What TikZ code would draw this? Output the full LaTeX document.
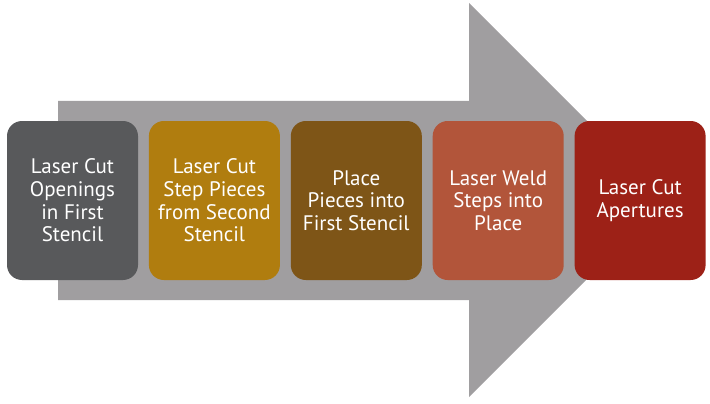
\documentclass[tikz,border=0pt]{standalone}
\usepackage{fontspec}
\setmainfont{PT Sans}
\usetikzlibrary{positioning}
\definecolor{arrowgray}{RGB}{160,158,160}
\definecolor{stepgray}{RGB}{88,89,91}
\definecolor{stepgold}{RGB}{176,125,15}
\definecolor{stepbrown}{RGB}{126,85,23}
\definecolor{steprust}{RGB}{178,85,58}
\definecolor{stepred}{RGB}{157,33,23}
\tikzstyle{stepbox} = [rectangle, rounded corners=15pt, minimum width=131pt, minimum height=159pt, inner sep=0pt, text=white, align=center, font=\fontsize{21}{22.7}\selectfont]

\begin{document}
\begin{tikzpicture}[x=1pt,y=1pt,node distance=10.5pt]
		\useasboundingbox (0,0) rectangle (710,-404);
		% big arrow behind the steps
		\fill[arrowgray] (58,-101) -- (469,-101) -- (469,-3) -- (666,-200) -- (469,-397) -- (469,-300) -- (58,-300) -- cycle;
		
		\node (cut) [stepbox, fill=stepgray] at (72.5,-200.5) {Laser Cut\\Openings\\in First\\Stencil};
		\node (pieces) [stepbox, fill=stepgold, right=of cut] {Laser Cut\\Step Pieces\\from Second\\Stencil};
		\node (place) [stepbox, fill=stepbrown, right=of pieces] {Place\\Pieces into\\First Stencil};
		\node (weld) [stepbox, fill=steprust, right=of place] {Laser Weld\\Steps into\\Place};
		\node (apert) [stepbox, fill=stepred, right=of weld] {Laser Cut\\Apertures};
	\end{tikzpicture}
\end{document}
